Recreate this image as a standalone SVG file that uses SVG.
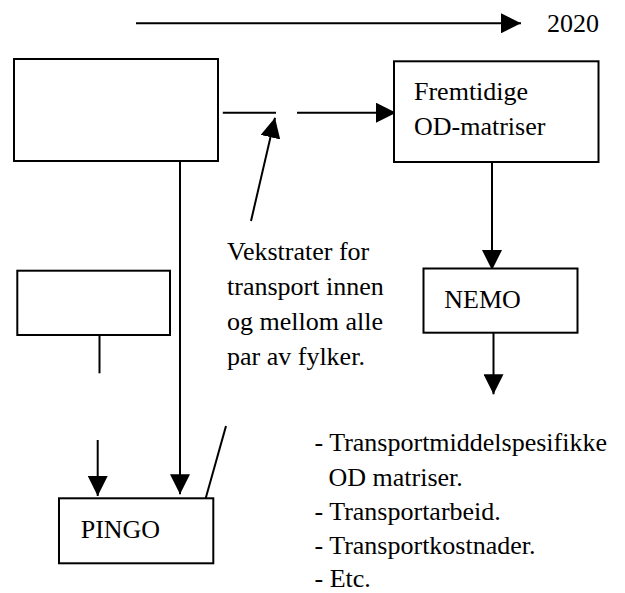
<svg xmlns="http://www.w3.org/2000/svg" width="625" height="593" viewBox="0 0 625 593">
<style>
.box{fill:#fff;stroke:#000;stroke-width:2}
.ln{fill:none;stroke:#000;stroke-width:2}
.t{font-family:"Liberation Serif","Times New Roman",serif;font-size:26px;fill:#000}
</style>
<defs>
<marker id="ah" markerUnits="userSpaceOnUse" markerWidth="20" markerHeight="20" refX="20" refY="10" orient="auto" viewBox="0 0 20 20">
<path d="M0,0 L20,10 L0,20 Z" fill="#000"/>
</marker>
</defs>
<rect width="625" height="593" fill="#fff"/>
<g id="connectors">
<line class="ln" x1="136" y1="23.3" x2="521" y2="23.3" marker-end="url(#ah)"/>
<line class="ln" x1="222.8" y1="112.7" x2="276" y2="112.7"/>
<line class="ln" x1="297" y1="112.7" x2="396" y2="112.7" marker-end="url(#ah)"/>
<line class="ln" x1="251" y1="221" x2="275" y2="117.7" marker-end="url(#ah)"/>
<line class="ln" x1="180" y1="161" x2="180" y2="494.3" marker-end="url(#ah)"/>
<line class="ln" x1="99.5" y1="335" x2="99.5" y2="373.3"/>
<line class="ln" x1="97.7" y1="440" x2="97.7" y2="496" marker-end="url(#ah)"/>
<line class="ln" x1="226" y1="426" x2="205.7" y2="498.3"/>
<line class="ln" x1="492" y1="162" x2="492" y2="270" marker-end="url(#ah)"/>
<line class="ln" x1="493.5" y1="332.7" x2="493.5" y2="394.3" marker-end="url(#ah)"/>
</g>
<g id="year"><text class="t" x="547" y="31.5">2020</text></g>
<g id="boxA"><rect class="box" x="14" y="59" width="204" height="102"/></g>
<g id="boxF"><rect class="box" x="394" y="61.3" width="204.5" height="100.7"/>
<text class="t" x="414" y="100">Fremtidige</text>
<text class="t" x="414" y="135">OD-matriser</text></g>
<g id="boxB"><rect class="box" x="17.3" y="270.7" width="152.7" height="64.3"/></g>
<g id="nemo"><rect class="box" x="423.5" y="268.5" width="154" height="64.2"/>
<text class="t" x="444.3" y="308.3">NEMO</text></g>
<g id="pingo"><rect class="box" x="59" y="498.3" width="154.3" height="65"/>
<text class="t" x="80.7" y="538.3">PINGO</text></g>
<g id="vekstrater">
<text class="t" x="227" y="259.5">Vekstrater for</text>
<text class="t" x="227" y="294.5">transport innen</text>
<text class="t" x="227" y="329.5">og mellom alle</text>
<text class="t" x="227" y="364.5">par av fylker.</text>
</g>
<g id="results">
<text class="t" x="314.5" y="450.7">- Transportmiddelspesifikke</text>
<text class="t" x="328.5" y="486.3">OD matriser.</text>
<text class="t" x="314.5" y="520.2">- Transportarbeid.</text>
<text class="t" x="314.5" y="554.2">- Transportkostnader.</text>
<text class="t" x="314.5" y="586.5">- Etc.</text>
</g>
</svg>
